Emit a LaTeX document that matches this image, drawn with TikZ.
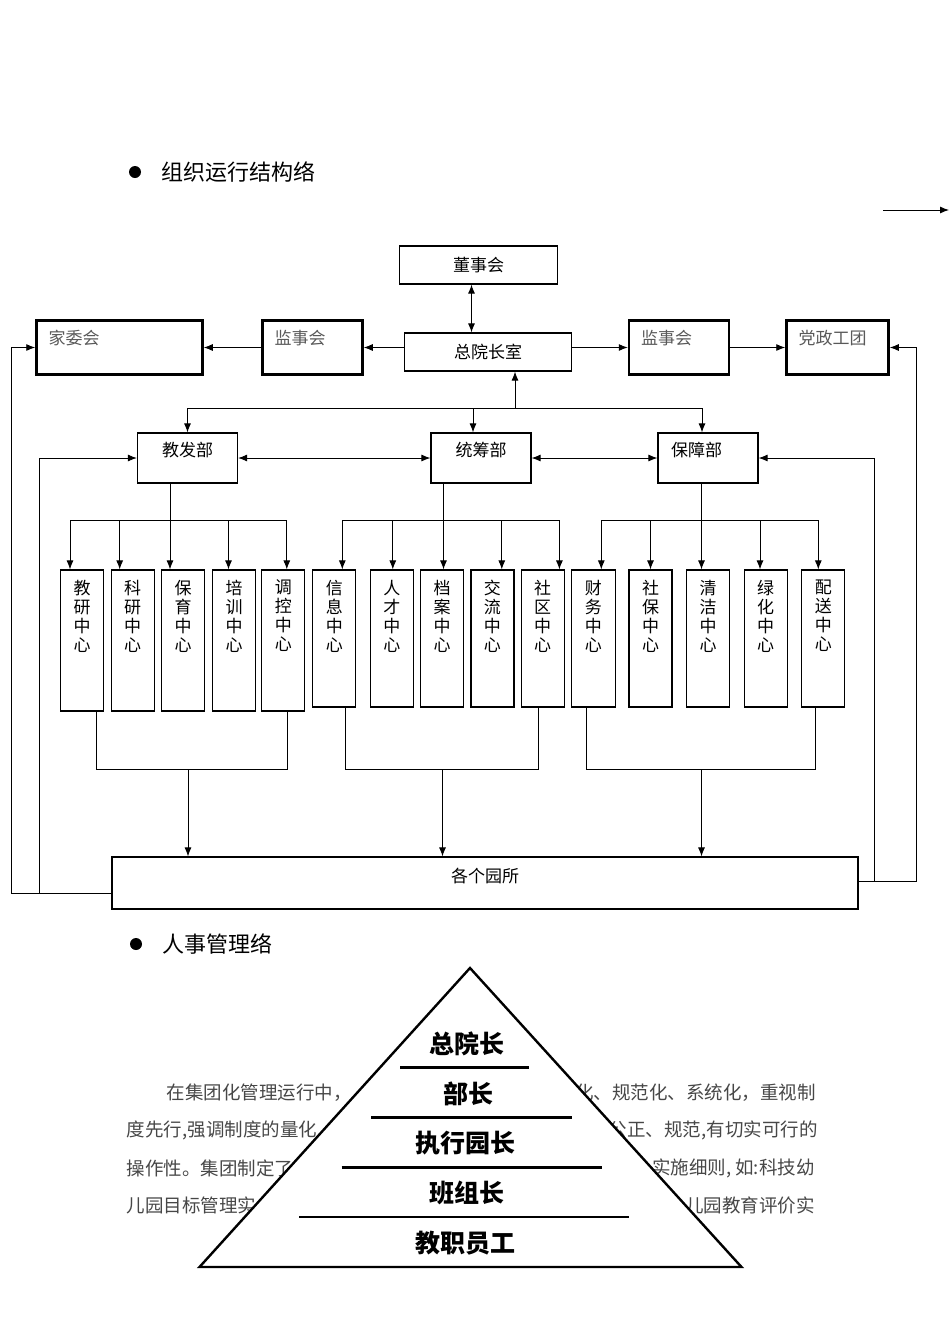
\documentclass[tikz,border=0pt]{standalone}
\usepackage{fontspec}
\setmainfont{Noto Sans CJK SC}
\usetikzlibrary{arrows.meta,positioning}

\newcommand{\fsz}[1]{\fontsize{#1}{#1}\selectfont}

\tikzset{
  box/.style={draw, line width=1.2pt, inner sep=0pt, font=\fsz{17}},
  wbox/.style={draw, line width=2.5pt, inner sep=0pt, inner xsep=12pt, align=left,
    minimum height=54pt, font=\fsz{17}, text=black!65, text height=6pt, text depth=13pt},
  dept/.style={box, minimum width=100pt, minimum height=50pt, text height=8pt, text depth=12pt},
  cbox/.style={draw, line width=1.2pt, inner sep=0pt, minimum width=43pt},
  ctext/.style={inner sep=0pt, align=center, font=\fontsize{17}{19}\selectfont},
  head/.style={inner sep=0pt, font=\fsz{22}},
  dot/.style={circle, fill, inner sep=0pt, minimum size=12pt},
  ptxt/.style={inner sep=0pt, font=\fsz{18.5}, text=black!72},
  ptop/.style={inner sep=0pt, font=\fsz{25}\bfseries},
}

\begin{document}
\begin{tikzpicture}[x=1pt, y=-1pt, line width=0.9pt, >={Latex[length=9pt,width=7pt]}]
    \useasboundingbox (0,0) rectangle (950,1344);
    % heading
    \node[dot] (b1) at (135,172) {};
    \node[head, right=20pt of b1] (h1) {组织运行结构络};
    \coordinate (ar1) at (883,210);
    \coordinate (ar2) at (949,210);
    \draw[->] (ar1) -- (ar2);

    % top row
    \node[box, minimum width=158pt, minimum height=38pt] (ds) at (478.5,265) {董事会};
    \node[box, minimum width=167pt, minimum height=38pt] (zy) at (488,352) {总院长室};
    \node[wbox, text width=142pt] (jw) at (119.5,347.5) {家委会};
    \node[wbox, text width=76pt] (js1) at (312.5,347.5) {监事会};
    \node[wbox, text width=76pt] (js2) at (679,347.5) {监事会};
    \node[wbox, text width=78pt] (dz) at (837.5,347.5) {党政工团};

    % departments
    \node[dept] (jf) at (187.5,458) {教发部};
    \node[dept] (tc) at (481,458) {统筹部};
    \node[dept, text width=74pt, inner xsep=13pt, align=left] (bz) at (708,458) {保障部};

    % centres
    \node[cbox, minimum height=141pt] (c1) at (82,640.5) {};
    \node[ctext, below=10pt of c1.north] (t1) {教\\研\\中\\心};
    \node[cbox, minimum height=141pt] (c2) at (132.7,640.5) {};
    \node[ctext, below=10pt of c2.north] (t2) {科\\研\\中\\心};
    \node[cbox, minimum height=141pt] (c3) at (183,640.5) {};
    \node[ctext, below=10pt of c3.north] (t3) {保\\育\\中\\心};
    \node[cbox, minimum height=141pt] (c4) at (234,640.5) {};
    \node[ctext, below=10pt of c4.north] (t4) {培\\训\\中\\心};
    \node[cbox, minimum height=141pt] (c5) at (283.3,640.5) {};
    \node[ctext, below=10pt of c5.north] (t5) {调\\控\\中\\心};
    \node[cbox, minimum height=137pt] (c6) at (334.3,638.5) {};
    \node[ctext, below=10pt of c6.north] (t6) {信\\息\\中\\心};
    \node[cbox, minimum height=137pt] (c7) at (391.8,638.5) {};
    \node[ctext, below=10pt of c7.north] (t7) {人\\才\\中\\心};
    \node[cbox, minimum height=137pt] (c8) at (442.1,638.5) {};
    \node[ctext, below=10pt of c8.north] (t8) {档\\案\\中\\心};
    \node[cbox, minimum height=137pt] (c9) at (492.4,638.5) {};
    \node[ctext, below=10pt of c9.north] (t9) {交\\流\\中\\心};
    \node[cbox, minimum height=137pt] (c10) at (542.7,638.5) {};
    \node[ctext, below=10pt of c10.north] (t10) {社\\区\\中\\心};
    \node[cbox, minimum height=137pt, minimum width=44pt] (c11) at (593.3,638.5) {};
    \node[ctext, below=10pt of c11.north] (t11) {财\\务\\中\\心};
    \node[cbox, minimum height=137pt] (c12) at (650.5,638.5) {};
    \node[ctext, below=10pt of c12.north] (t12) {社\\保\\中\\心};
    \node[cbox, minimum height=137pt] (c13) at (708.2,638.5) {};
    \node[ctext, below=10pt of c13.north] (t13) {清\\洁\\中\\心};
    \node[cbox, minimum height=137pt] (c14) at (765.7,638.5) {};
    \node[ctext, below=10pt of c14.north] (t14) {绿\\化\\中\\心};
    \node[cbox, minimum height=137pt] (c15) at (823.3,638.5) {};
    \node[ctext, below=10pt of c15.north] (t15) {配\\送\\中\\心};

    % gardens
    \node[box, minimum width=746pt, minimum height=52pt, text height=9pt, text depth=11pt] (yuan) at (485,883) {各个园所};

    % links of the top row
    \coordinate (dv) at ([xshift=-7pt]ds.south);
    \draw[<->] (dv) -- (dv |- zy.north);
    \draw[->] (zy.west |- js1) -- (js1.east);
    \draw[->] (js1.west) -- (jw.east);
    \draw[->] (zy.east |- js2) -- (js2.west);
    \draw[->] (js2.east) -- (dz.west);

    % departments to the office
    \coordinate (hub) at (515,408);
    \draw[->] (hub) -- (hub |- zy.south);
    \draw[->] (hub) -| (jf.north);
    \draw[->] (hub) -| ([xshift=-8pt]tc.north);
    \draw[->] (hub) -| ([xshift=-6pt]bz.north);
    \draw[<->] (jf) -- (tc);
    \draw[<->] (tc) -- (bz);

    % branches of jf
    \coordinate (g1) at (170,520);
    \draw (jf.south -| g1) -- (g1);
    \draw[->] (g1) -| ([xshift=-12pt]c1.north);
    \draw[->] (g1) -| ([xshift=-13pt]c2.north);
    \draw[->] (g1) -- ([xshift=-13pt]c3.north);
    \draw[->] (g1) -| ([xshift=-5.5pt]c4.north);
    \draw[->] (g1) -| ([xshift=3.5pt]c5.north);
    % branches of tc
    \coordinate (g2) at (443.5,520);
    \draw (tc.south -| g2) -- (g2);
    \draw[->] (g2) -| ([xshift=8pt]c6.north);
    \draw[->] (g2) -| ([xshift=1pt]c7.north);
    \draw[->] (g2) -- (g2 |- c8.north);
    \draw[->] (g2) -| ([xshift=9.4pt]c9.north);
    \draw[->] (g2) -| ([xshift=16.7pt]c10.north);
    % branches of bz
    \coordinate (g3) at (701.5,520);
    \draw (bz.south -| g3) -- (g3);
    \draw[->] (g3) -| ([xshift=8pt]c11.north);
    \draw[->] (g3) -| (c12.north);
    \draw[->] (g3) -- (g3 |- c13.north);
    \draw[->] (g3) -| ([xshift=-5.7pt]c14.north);
    \draw[->] (g3) -| ([xshift=-5pt]c15.north);

    % centres to the gardens
    \coordinate (m1) at (188,769);
    \draw ([xshift=14pt]c1.south) |- (m1) -| ([xshift=4.5pt]c5.south);
    \draw[->] (m1) -- (m1 |- yuan.north);
    \coordinate (m2) at (442.5,769);
    \draw ([xshift=11pt]c6.south) |- (m2) -| ([xshift=-4.5pt]c10.south);
    \draw[->] (m2) -- (m2 |- yuan.north);
    \coordinate (m3) at (701.5,769);
    \draw ([xshift=-6.5pt]c11.south) |- (m3) -| ([xshift=-7.5pt]c15.south);
    \draw[->] (m3) -- (m3 |- yuan.north);

    % feedback loops
    \draw[->] ([yshift=-10pt]yuan.west) -- ++(-100,0) |- (jw.west);
    \draw[->] ([yshift=-10pt]yuan.west) -- ++(-72,0) |- (jf.west);
    \draw[->] ([yshift=2pt]yuan.east) -- ++(58,0) |- (dz.east);
    \draw[->] ([yshift=2pt]yuan.east) -- ++(16,0) |- (bz.east);

    % second heading
    \node[dot] (b2) at (136,944) {};
    \node[head, right=20pt of b2] (h2) {人事管理络};

    % text behind the pyramid
    \node[ptxt, anchor=west] (l1) at (166.5,1093) {在集团化管理运行中，};
    \node[ptxt, anchor=east] (r1) at (816,1093) {化、规范化、系统化，重视制};
    \node[ptxt, anchor=west] (l2) at (126.5,1130.5) {度先行,强调制度的量化};
    \node[ptxt, anchor=east] (r2) at (818,1130.5) {公正、规范,有切实可行的};
    \node[ptxt, anchor=west] (l3) at (126.5,1168) {操作性。集团制定了};
    \node[ptxt, anchor=east] (r3) at (815,1168) {实施细则, 如:科技幼};
    \node[ptxt, anchor=west] (l4) at (126.5,1205) {儿园目标管理实};
    \node[ptxt, anchor=east] (r4) at (815,1205) {儿园教育评价实};

    % pyramid
    \draw[line width=2.4pt, fill=white] (470,968) -- (741.5,1267) -- (199.5,1267) -- cycle;
    \draw[line width=2.2pt] (400,1067.5) -- (529,1067.5);
    \draw[line width=2.2pt] (371,1117.5) -- (572,1117.5);
    \draw[line width=2.2pt] (341.5,1167.5) -- (601.5,1167.5);
    \draw[line width=2.2pt] (299,1217) -- (629,1217);
    \node[ptop] (p1) at (467,1044) {总院长};
    \node[ptop] (p2) at (468,1094) {部长};
    \node[ptop] (p3) at (465,1143) {执行园长};
    \node[ptop] (p4) at (467,1193) {班组长};
    \node[ptop] (p5) at (465,1243) {教职员工};
\end{tikzpicture}
\end{document}
